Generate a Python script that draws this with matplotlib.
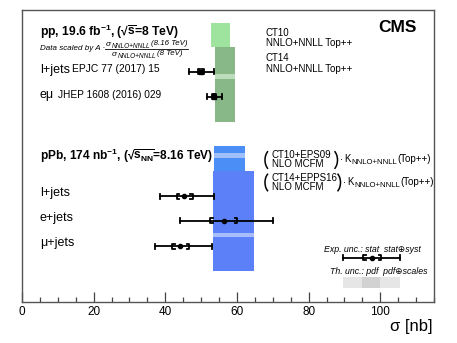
import matplotlib
matplotlib.use("Agg")
import matplotlib.pyplot as plt
from matplotlib.patches import Rectangle, Arc
from matplotlib.ticker import MultipleLocator

plt.rcParams['font.family'] = ['Liberation Sans', 'DejaVu Sans']
plt.rcParams['mathtext.fontset'] = 'custom'
plt.rcParams['mathtext.rm'] = 'Liberation Sans'
plt.rcParams['mathtext.it'] = 'Liberation Sans:italic'
plt.rcParams['mathtext.bf'] = 'Liberation Sans:bold'

W, H = 457, 343

# ---- data (cross sections in nb) ----
meas_labels = ["l+jets", "eμ", "l+jets", "e+jets", "μ+jets"]
meas_value = [50.0, 53.5, 45.3, 56.4, 44.2]
stat_lo = [49.2, 53.0, 43.2, 52.6, 42.0]
stat_hi = [50.9, 54.2, 47.6, 60.1, 46.7]
tot_lo = [46.7, 51.7, 38.4, 44.1, 37.0]
tot_hi = [53.6, 55.8, 53.5, 70.2, 53.0]
meas_row = [71.7, 96.7, 196.0, 220.7, 246.0]  # vertical layout positions
meas_marker = ['s', 's', 'o', 'o', 'o']

theory_names = ["pp CT10", "pp CT14", "pPb CT10+EPS09", "pPb CT14+EPPS16"]
theory_lo = [52.8, 54.0, 53.7, 53.4]
theory_hi = [58.1, 59.5, 62.3, 64.8]
theory_rows = [(22.7, 47.3), (47.3, 121.7), (146.0, 171.0), (171.0, 270.7)]
theory_gap = [None, (74.0, 79.0), (152.7, 158.3), (232.7, 237.3)]
theory_col = ["#9ee39e", "#88b888", "#4a8ef6", "#5b80f7"]
theory_light = ["#9ee39e", "#bcdcbc", "#9fc0fb", "#a9bcfb"]

# legend example
leg_value, leg_stat, leg_tot = 97.7, (95.3, 100.3), (89.6, 105.6)
leg_th_tot, leg_th_pdf = (89.6, 105.6), (95.0, 100.0)

fig = plt.figure(figsize=(W / 100, H / 100), dpi=100)
renderer = fig.canvas.get_renderer()
ax = fig.add_axes([22 / W, 1 - 302 / H, (434 - 22) / W, (302 - 10) / H])
ax.set_xlim(0, 115)
ax.set_ylim(302, 10)
ax.set_yticks([])
ax.xaxis.set_major_locator(MultipleLocator(20))
ax.xaxis.set_minor_locator(MultipleLocator(5))
ax.tick_params(axis='x', which='major', direction='in', length=7, width=0.9,
               color='#444444', labelsize=8.5, pad=3)
ax.tick_params(axis='x', which='minor', direction='in', length=3.5, width=0.9,
               color='#444444')
for s in ax.spines.values():
    s.set_color('#555555')
    s.set_linewidth(1.0)

# theory bands
for lo, hi, (y0, y1), gap, c, cl in zip(theory_lo, theory_hi, theory_rows,
                                         theory_gap, theory_col, theory_light):
    ax.add_patch(Rectangle((lo, y0), hi - lo, y1 - y0, facecolor=c,
                           edgecolor='none', zorder=1))
    if gap is not None:
        ax.add_patch(Rectangle((lo, gap[0]), hi - lo, gap[1] - gap[0],
                               facecolor=cl, edgecolor='none', zorder=1.5))

def draw_point(v, s0, s1, t0, t1, y, mk='o'):
    ax.plot([t0, t1], [y, y], color='black', lw=1.3, zorder=3)
    ax.plot([t0, t0], [y - 2.5, y + 2.5], color='black', lw=1.3, zorder=3)
    ax.plot([t1, t1], [y - 2.5, y + 2.5], color='black', lw=1.3, zorder=3)
    d = 0.6
    ax.plot([s0 + d, s0, s0, s0 + d], [y - 2.5, y - 2.5, y + 2.5, y + 2.5],
            color='black', lw=1.3, zorder=3)
    ax.plot([s1 - d, s1, s1, s1 - d], [y - 2.5, y - 2.5, y + 2.5, y + 2.5],
            color='black', lw=1.3, zorder=3)
    ax.plot([v], [y], marker=mk, ms=3, color='black', zorder=4)

for v, s0, s1, t0, t1, y, mk in zip(meas_value, stat_lo, stat_hi, tot_lo, tot_hi,
                                    meas_row, meas_marker):
    draw_point(v, s0, s1, t0, t1, y, mk)

# legend
draw_point(leg_value, leg_stat[0], leg_stat[1], leg_tot[0], leg_tot[1], 257.7)
ax.add_patch(Rectangle((leg_th_tot[0], 276.7), leg_th_tot[1] - leg_th_tot[0], 11.6,
                       facecolor='#e6e6e6', edgecolor='none', zorder=1))
ax.add_patch(Rectangle((leg_th_pdf[0], 276.7), leg_th_pdf[1] - leg_th_pdf[0], 11.6,
                       facecolor='#d2d2d2', edgecolor='none', zorder=1.5))

# overlay in pixel coordinates for annotations
ov = fig.add_axes([0, 0, 1, 1], zorder=5)
ov.set_xlim(0, W)
ov.set_ylim(H, 0)
ov.axis('off')
ov.patch.set_alpha(0)

def t(x, y, s, **kw):
    kw.setdefault('va', 'center')
    return ov.text(x, y, s, **kw)

def chain(x, y, pieces):
    """pieces: list of (text, dy, fontsize, style, gap_after)"""
    for s, dy, fs, st, gap in pieces:
        tx = t(x, y + dy, s, fontsize=fs, style=st, va='baseline')
        bb = tx.get_window_extent(renderer)
        x += bb.width + gap
    return x

t(40, 32, r"pp, 19.6 fb$^{\mathbf{-1}}$, (√$\overline{\mathbf{s}}$=8 TeV)",
  fontsize=8.7, fontweight='bold')
# fraction
t(40, 49, "Data scaled by A ·", fontsize=5.8, style='italic')
chain(106, 46.0, [("σ", 0, 6, 'italic', 0.3),
                  ("NNLO+NNLL", 1.5, 4.7, 'italic', 0.8),
                  ("(8.16 TeV)", -1.3, 5.7, 'italic', 0)])
chain(112, 56.5, [("σ", 0, 6, 'italic', 0.3),
                  ("NNLO+NNLL", 1.5, 4.7, 'italic', 0.8),
                  ("(8 TeV)", -1.3, 5.7, 'italic', 0)])
ov.plot([105, 188], [49.4, 49.4], color='black', lw=0.6)

t(40, 69.5, meas_labels[0], fontsize=9)
t(72, 69.5, "EPJC 77 (2017) 15", fontsize=7.4)
t(40, 95, meas_labels[1], fontsize=9)
t(58, 95, "JHEP 1608 (2016) 029", fontsize=7.3)

t(266, 33, "CT10", fontsize=7.0)
t(266, 43, "NNLO+NNLL Top++", fontsize=7.0)
t(266, 58, "CT14", fontsize=7.0)
t(266, 68.5, "NNLO+NNLL Top++", fontsize=7.0)

t(417, 28, "CMS", fontsize=12.5, fontweight='bold', ha='right')

t(40, 155.5,
  r"pPb, 174 nb$^{\mathbf{-1}}$, (√$\overline{\mathbf{s}_{\mathbf{NN}}}$=8.16 TeV)",
  fontsize=8.6, fontweight='bold')
t(40, 193, meas_labels[2], fontsize=9)
t(40, 218, meas_labels[3], fontsize=9)
t(40, 243, meas_labels[4], fontsize=9)

for yc, top, rx, kx in [(160.0, "CT10+EPS09", 337.5, 340.0),
                        (182.5, "CT14+EPPS16", 340.5, 343.0)]:
    ov.add_patch(Arc((272.5, yc), 15, 22, theta1=117, theta2=243,
                     color='black', lw=1.1))
    ov.add_patch(Arc((rx - 7.5, yc), 15, 22, theta1=-63, theta2=63,
                     color='black', lw=1.1))
    t(271.5, yc - 4.5, top, fontsize=7.0)
    t(271.5, yc + 4.3, "NLO MCFM", fontsize=7.0)
    chain(kx, yc + 2.5, [("·", -0.3, 6.5, 'normal', 1.5),
                         ("K", 0, 7.0, 'normal', 0.3),
                         ("NNLO+NNLL", 2.0, 5.6, 'normal', 0.3),
                         ("(Top++)", 0, 7.0, 'normal', 0)])

t(324, 249, "Exp. unc.: stat  stat⊕syst", fontsize=6.3, style='italic',
  family=['Liberation Sans', 'DejaVu Sans'])
t(330, 272, "Th. unc.: pdf  pdf⊕scales", fontsize=6.3, style='italic',
  family=['Liberation Sans', 'DejaVu Sans'])

t(432, 327, "σ [nb]", fontsize=12, ha='right')

fig.savefig("out.png", dpi=100)
